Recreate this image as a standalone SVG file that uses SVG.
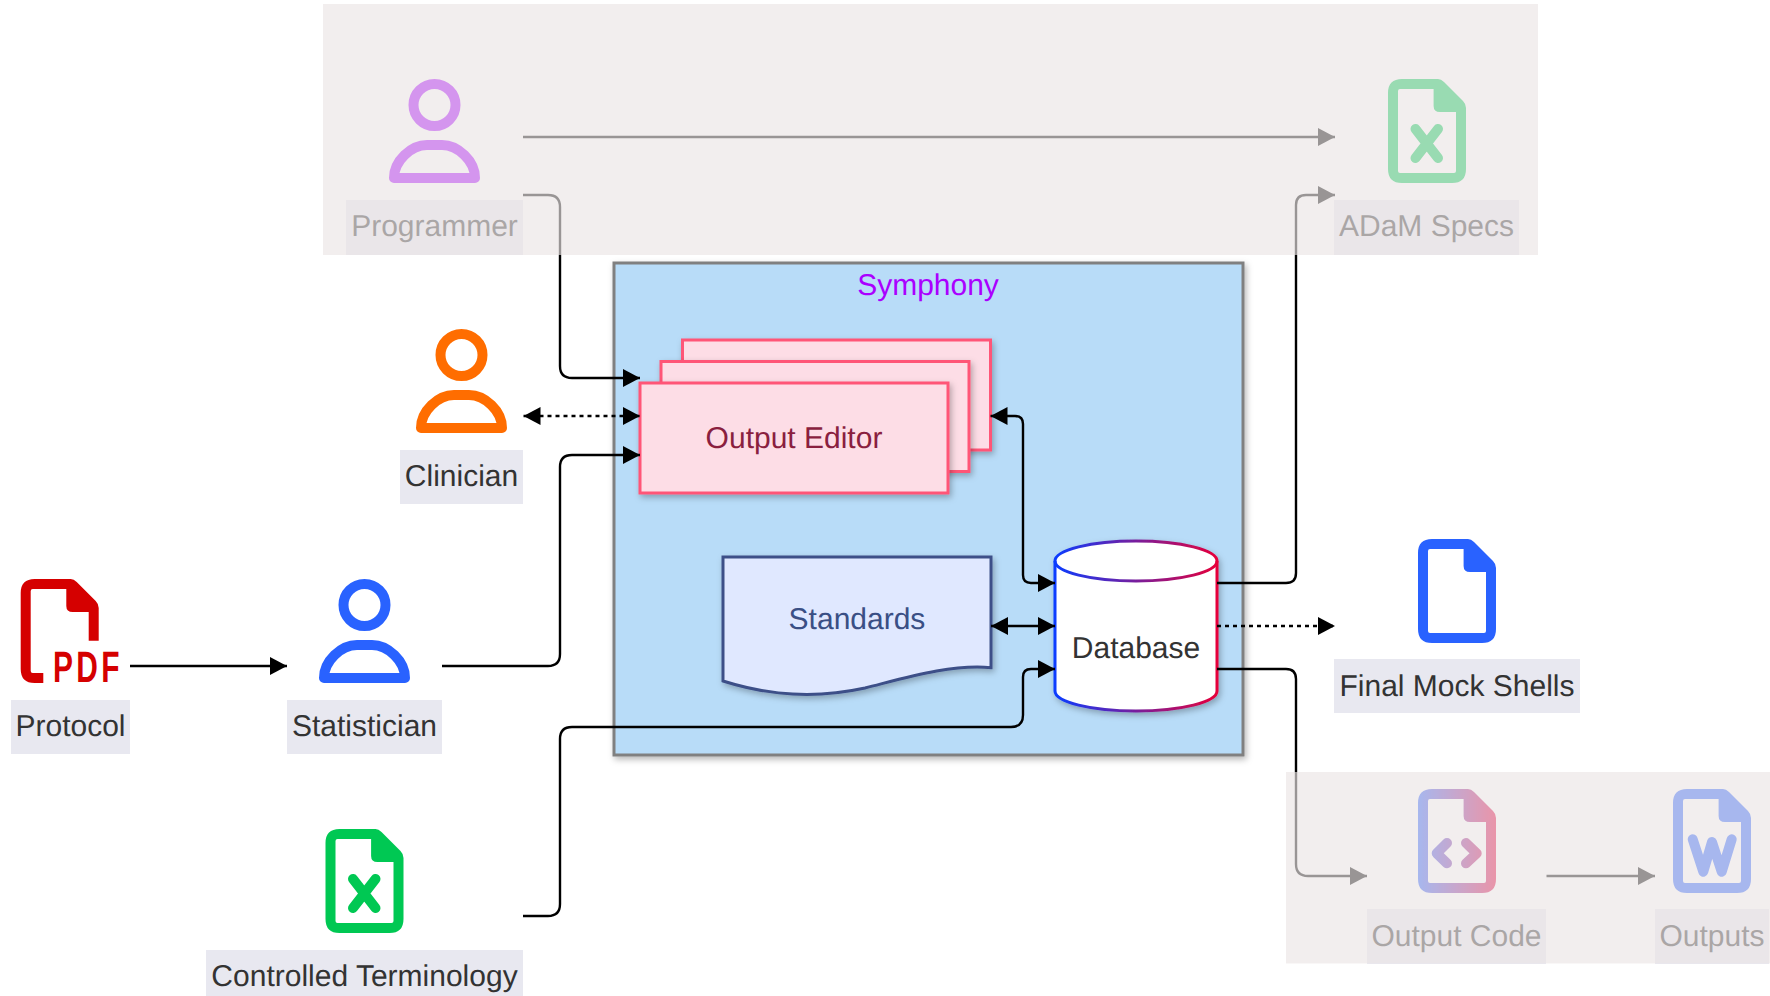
<svg xmlns="http://www.w3.org/2000/svg" width="1770" height="996" viewBox="0 0 1770 996">
<style>
text{font-family:"Liberation Sans",Arial,sans-serif;font-size:30px;text-anchor:middle;fill:#333;text-rendering:geometricPrecision}
.lb{fill:#e8e8f0}
.ln{fill:none;stroke:#000;stroke-width:2.4}
.dot{stroke-dasharray:4 4;stroke-width:2.6}
.p{fill:none;stroke-width:10;stroke-linejoin:round;stroke-linecap:round}
.oe{fill:#fddde6;stroke:#ff5577;stroke-width:3;filter:url(#sh)}
.dim{fill:#ebe5e5;fill-opacity:.65}
</style>
<defs>
<filter id="sh" x="-10%" y="-10%" width="125%" height="125%"><feDropShadow dx="2" dy="3" stdDeviation="3" flood-color="#000" flood-opacity=".28"/></filter>
<marker id="a" viewBox="0 0 17 18" refX="17" refY="9" markerWidth="17" markerHeight="18" markerUnits="userSpaceOnUse" orient="auto-start-reverse"><path d="M0 0L17 9L0 18Z" fill="#000"/></marker>
<linearGradient id="dbg" x1="0" x2="1" y1="0" y2="0"><stop offset="0" stop-color="#0a3cff"/><stop offset="1" stop-color="#e6003a"/></linearGradient>
<linearGradient id="cg" gradientUnits="userSpaceOnUse" x1="0" x2="78" y1="0" y2="0"><stop offset="0" stop-color="#2962ff"/><stop offset="1" stop-color="#e6003a"/></linearGradient>
<path id="file" fill-rule="evenodd" d="M14 0H50Q53 0 56 3L75 22Q78 25 78 29V90Q78 104 64 104H14Q0 104 0 90V14Q0 0 14 0ZM12 10Q10 10 10 12V92Q10 94 12 94H66Q68 94 68 92V33H52Q45.600 33 45.600 27V10Z"/>
<g id="person"><circle cx="45.500" cy="26" r="21" fill="none" stroke-width="10" stroke="inherit"/><path class="p" d="M5 99C5 82 22 66 38 66H53C69 66 86 82 86 99Z"/></g>
</defs>

<g id="symphony"><rect x="614" y="263" width="629" height="492" fill="#b8dcf8" stroke="#808080" stroke-width="3" filter="url(#sh)"/><text x="928" y="295" style="fill:#aa00ff">Symphony</text></g>

<g id="output-editor">
<rect class="oe" x="682.500" y="340" width="308" height="110"/>
<rect class="oe" x="661" y="361.500" width="308" height="110"/>
<rect class="oe" x="640" y="383" width="308" height="110"/>
<text x="794" y="448" style="fill:#8a1f3f">Output Editor</text>
</g>

<g id="standards"><path d="M723 557H991V667.700C950 664 905 678 865 688C815 699 770 696 723 681Z" fill="#e0e8ff" stroke="#3d5088" stroke-width="3" filter="url(#sh)"/><text x="857" y="629" style="fill:#3a4f85">Standards</text></g>

<g id="database">
<path d="M1055 561C1055 550 1091 541 1136 541C1181 541 1217 550 1217 561V691C1217 702 1181 711 1136 711C1091 711 1055 702 1055 691Z" fill="#fff" stroke="url(#dbg)" stroke-width="3" filter="url(#sh)"/>
<path d="M1055 561C1055 572 1091 581 1136 581C1181 581 1217 572 1217 561" fill="none" stroke="url(#dbg)" stroke-width="3"/>
<text x="1136" y="658">Database</text>
</g>

<g id="programmer"><g transform="translate(389 79)" stroke="#aa00ff"><use href="#person"/></g><rect class="lb" x="346" y="200" width="177" height="55"/><text x="434.500" y="236">Programmer</text></g>
<g id="clinician"><g transform="translate(416 329)" stroke="#ff6d00"><use href="#person"/></g><rect class="lb" x="400" y="450" width="123" height="54"/><text x="461.500" y="486">Clinician</text></g>
<g id="statistician"><g transform="translate(319 579)" stroke="#2962ff"><use href="#person"/></g><rect class="lb" x="287" y="700" width="155" height="54"/><text x="364.500" y="736">Statistician</text></g>

<g id="protocol"><path fill="#d50000" d="M34.700 579H70.700Q73.700 579 76.700 582L95.700 601Q98.700 604 98.700 608V640.700H88.700V612H72.700Q66.300 612 66.300 606V589H32.700Q30.700 589 30.700 591V671Q30.700 673 32.700 673H43.300V683H34.700Q20.700 683 20.700 669V593Q20.700 579 34.700 579Z"/><text transform="translate(53 682) scale(.68 1)" style="text-anchor:start;letter-spacing:5px;font-size:44px;font-weight:700;fill:#d50000">PDF</text><rect class="lb" x="11" y="700" width="119" height="54"/><text x="70.500" y="736">Protocol</text></g>

<g id="controlled-terminology"><g transform="translate(325.500 829)"><use href="#file" fill="#00c853"/><path class="p" stroke="#00c853" d="M27.500 50L50 79M50 50L27.500 79"/></g><rect class="lb" x="206" y="950" width="317" height="54"/><text x="364.500" y="986">Controlled Terminology</text></g>

<g id="adam-specs"><g transform="translate(1388 79)"><use href="#file" fill="#00c853"/><path class="p" stroke="#00c853" d="M27.500 50L50 79M50 50L27.500 79"/></g><rect class="lb" x="1334" y="200" width="185" height="55"/><text x="1426.500" y="236">ADaM Specs</text></g>

<g id="final-mock-shells"><use href="#file" x="1418" y="539" fill="#2962ff"/><rect class="lb" x="1334" y="659" width="246" height="54"/><text x="1457" y="696">Final Mock Shells</text></g>

<g id="output-code"><g transform="translate(1418 789)"><use href="#file" fill="url(#cg)"/><path class="p" stroke="url(#cg)" d="M29 54L18.700 64.300L29 74.300M48 54L58.700 64.300L48 74.300"/></g><rect class="lb" x="1367" y="909" width="179" height="55"/><text x="1456.500" y="946">Output Code</text></g>

<g id="outputs"><g transform="translate(1673 789)"><use href="#file" fill="#2962ff"/><path class="p" stroke="#2962ff" d="M19.700 50.300L30.300 82.700L39 53L48.700 82.700L58.700 50.300"/></g><rect class="lb" x="1655" y="909" width="114" height="55"/><text x="1712" y="946">Outputs</text></g>

<g id="connectors">
<path class="ln" marker-end="url(#a)" d="M523 137H1335"/>
<path class="ln" marker-end="url(#a)" d="M130 666H287"/>
<path class="ln" marker-end="url(#a)" d="M442 666H548Q560 666 560 654V467Q560 455 572 455H640"/>
<path class="ln" marker-end="url(#a)" d="M523 195H548Q560 195 560 207V366Q560 378 572 378H640"/>
<path class="ln dot" marker-start="url(#a)" marker-end="url(#a)" d="M523.500 416H640"/>
<path class="ln" marker-start="url(#a)" marker-end="url(#a)" d="M990.500 416H1015Q1023 416 1023 424V575Q1023 583 1031 583H1055"/>
<path class="ln" marker-start="url(#a)" marker-end="url(#a)" d="M991 626H1055"/>
<path class="ln" marker-end="url(#a)" d="M523 916H548Q560 916 560 904V739Q560 727 572 727H1011Q1023 727 1023 715V677Q1023 669 1031 669H1055"/>
<path class="ln" marker-end="url(#a)" d="M1217 583H1286Q1296 583 1296 573V205Q1296 195 1306 195H1335"/>
<path class="ln dot" marker-end="url(#a)" d="M1217 626H1335"/>
<path class="ln" marker-end="url(#a)" d="M1217 669H1286Q1296 669 1296 679V864Q1296 876 1308 876H1367"/>
<path class="ln" marker-end="url(#a)" d="M1546.500 876H1655"/>
</g>

<g id="dimmed-zones">
<rect class="dim" x="323" y="4" width="1215" height="251"/>
<rect class="dim" x="1286" y="772" width="484" height="191.500"/>
</g>
</svg>
